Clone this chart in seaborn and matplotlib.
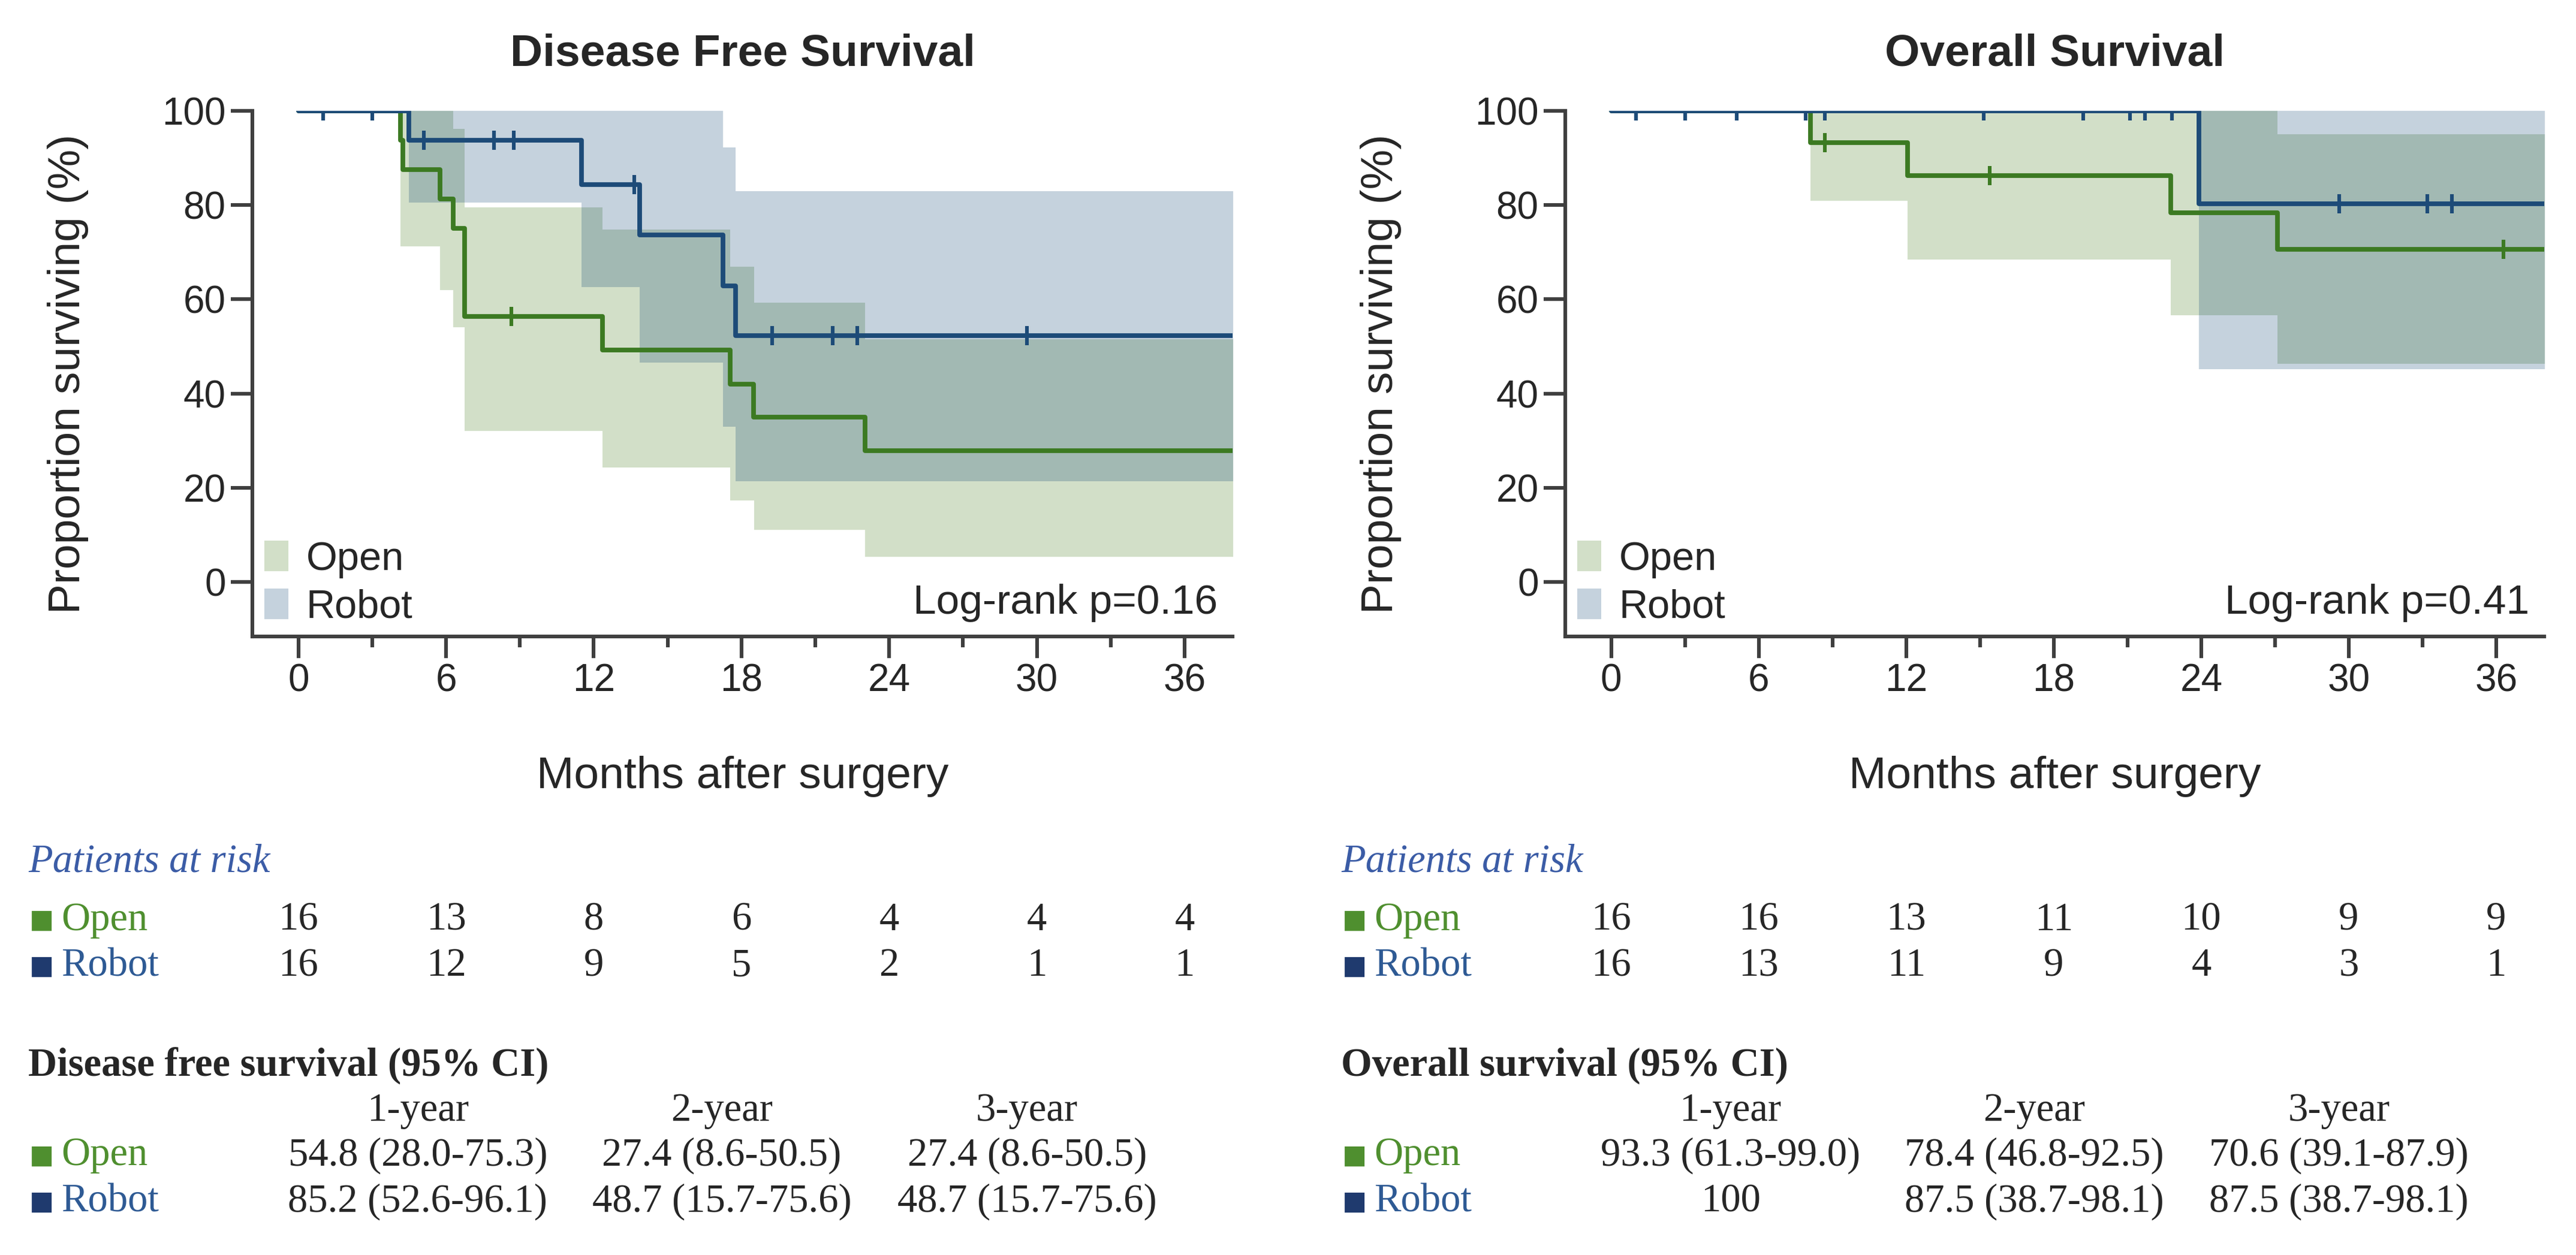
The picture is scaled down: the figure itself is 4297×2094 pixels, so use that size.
import numpy as np
import pandas as pd
import matplotlib
matplotlib.use('Agg')
import matplotlib.pyplot as plt
import matplotlib.transforms as mtransforms
from matplotlib.patches import Patch
from matplotlib.ticker import FixedLocator
import seaborn as sns

# ==========================
# Data
# ==========================
# Disease free survival, Open arm (step curve, % surviving)
DFS_OPEN_T = [0, 4.15, 4.25, 5.75, 6.28, 6.75, 12.36, 17.55, 18.5, 23.03, 38.0]
DFS_OPEN_S = [100, 93.8, 87.5, 81.3, 75.0, 56.3, 49.2, 42.0, 35.0, 27.8, 27.8]
DFS_OPEN_CENS = [8.66]
DFS_OPEN_CI_T = [4.15, 5.75, 6.28, 6.75, 12.36, 17.55, 18.52, 23.03, 38.0]
DFS_OPEN_CI_LO = [71.3, 62.0, 54.0, 32.0, 24.3, 17.3, 11.0, 5.3, 5.3]
DFS_OPEN_CI_HI = [100, 100, 96.2, 79.5, 74.8, 66.9, 59.3, 51.5, 51.5]

# Disease free survival, Robot arm
DFS_ROBOT_T = [0, 4.48, 11.5, 13.86, 17.25, 17.77, 38.0]
DFS_ROBOT_S = [100, 93.8, 84.3, 73.6, 62.8, 52.3, 52.3]
DFS_ROBOT_CENS = [1.0, 3.0, 5.1, 7.95, 8.75, 13.65, 19.25, 21.7, 22.7, 29.6]
DFS_ROBOT_CI_T = [4.48, 11.5, 13.86, 17.25, 17.77, 38.0]
DFS_ROBOT_CI_LO = [80.5, 62.6, 46.6, 33.0, 21.3, 21.3]
DFS_ROBOT_CI_HI = [100, 100, 100, 92.3, 83.0, 83.0]

# Overall survival, Open arm
OS_OPEN_T = [0, 8.1, 12.06, 22.76, 27.1, 38.0]
OS_OPEN_S = [100, 93.3, 86.2, 78.4, 70.6, 70.6]
OS_OPEN_CENS = [8.7, 15.4, 36.3]
OS_OPEN_CI_T = [8.1, 12.06, 22.76, 27.1, 38.0]
OS_OPEN_CI_LO = [80.9, 68.4, 56.6, 46.3, 46.3]
OS_OPEN_CI_HI = [100, 100, 100, 95.1, 95.1]

# Overall survival, Robot arm
OS_ROBOT_T = [0, 23.9, 38.0]
OS_ROBOT_S = [100, 80.3, 80.3]
OS_ROBOT_CENS = [1.0, 3.0, 5.1, 7.9, 8.7, 15.15, 19.2, 21.1, 21.7, 22.8, 29.6, 33.2, 34.2]
OS_ROBOT_CI_T = [23.9, 38.0]
OS_ROBOT_CI_LO = [45.2, 45.2]
OS_ROBOT_CI_HI = [100, 100]

# Patients at risk
RISK_MONTHS = [0, 6, 12, 18, 24, 30, 36]
DFS_RISK_OPEN = [16, 13, 8, 6, 4, 4, 4]
DFS_RISK_ROBOT = [16, 12, 9, 5, 2, 1, 1]
OS_RISK_OPEN = [16, 16, 13, 11, 10, 9, 9]
OS_RISK_ROBOT = [16, 13, 11, 9, 4, 3, 1]

# Survival estimates table
YEAR_HEADERS = ['1-year', '2-year', '3-year']
DFS_TABLE_OPEN = ['54.8 (28.0-75.3)', '27.4 (8.6-50.5)', '27.4 (8.6-50.5)']
DFS_TABLE_ROBOT = ['85.2 (52.6-96.1)', '48.7 (15.7-75.6)', '48.7 (15.7-75.6)']
OS_TABLE_OPEN = ['93.3 (61.3-99.0)', '78.4 (46.8-92.5)', '70.6 (39.1-87.9)']
OS_TABLE_ROBOT = ['100', '87.5 (38.7-98.1)', '87.5 (38.7-98.1)']

# ==========================
# Style
# ==========================
GREEN_LINE = '#3c7a22'
BLUE_LINE = '#1d4b78'
GREEN_BAND = '#d2dfc8'
BLUE_BAND = '#0d4371'   # drawn with alpha -> light blue, darker where it overlaps green
BLUE_ALPHA = 0.24
AXIS_GREY = '#3f3f3f'
TXT_GREEN = '#4f8f2f'
TXT_BLUE = '#2e5a94'
SQ_BLUE = '#1f3a6e'
RISK_TITLE = '#3b5ca6'

sns.set_theme(style='ticks')
plt.rcParams['font.family'] = ['Liberation Sans', 'DejaVu Sans']
SERIF = ['Liberation Serif', 'DejaVu Sans']

W, H = 4297, 2094
DPI = 200
fig = plt.figure(figsize=(W / DPI, H / DPI), dpi=DPI)

XLIM = (-1.87, 37.95)
YLIM = (-11.6, 100)


def step_value(times, surv, t):
    idx = np.searchsorted(times, t, side='right') - 1
    return np.asarray(surv)[idx]


def draw_panel(ax, title, pval, open_arm, robot_arm):
    # confidence bands
    ax.fill_between(open_arm['ci_t'], open_arm['ci_lo'], open_arm['ci_hi'],
                    step='post', color=GREEN_BAND, linewidth=0, zorder=1)
    ax.fill_between(robot_arm['ci_t'], robot_arm['ci_lo'], robot_arm['ci_hi'],
                    step='post', color=BLUE_BAND, alpha=BLUE_ALPHA, linewidth=0, zorder=1.1)

    # survival curves
    df = pd.concat([
        pd.DataFrame({'time': open_arm['t'], 'surv': open_arm['s'], 'arm': 'Open'}),
        pd.DataFrame({'time': robot_arm['t'], 'surv': robot_arm['s'], 'arm': 'Robot'}),
    ], ignore_index=True)
    sns.lineplot(data=df, x='time', y='surv', hue='arm', estimator=None,
                 palette={'Open': GREEN_LINE, 'Robot': BLUE_LINE},
                 drawstyle='steps-post', linewidth=2.8, legend=False, ax=ax, zorder=3)

    # censor marks
    for arm, col in ((open_arm, GREEN_LINE), (robot_arm, BLUE_LINE)):
        cy = step_value(arm['t'], arm['s'], arm['cens'])
        sns.scatterplot(x=arm['cens'], y=cy, marker='|', s=130, linewidth=2.2,
                        color=col, ax=ax, zorder=4, legend=False)

    ax.set_xlim(XLIM)
    ax.set_ylim(YLIM)
    ax.set_xticks(RISK_MONTHS)
    ax.xaxis.set_minor_locator(FixedLocator(np.arange(3, 36, 6)))
    ax.set_yticks([0, 20, 40, 60, 80, 100])
    ax.tick_params(axis='both', which='major', direction='out', length=13, width=2.2,
                   color=AXIS_GREY, labelsize=23, pad=3)
    ax.tick_params(axis='x', which='minor', direction='out', length=6.5, width=2.2,
                   color=AXIS_GREY)
    sns.despine(ax=ax)
    for side in ('left', 'bottom'):
        ax.spines[side].set_color(AXIS_GREY)
        ax.spines[side].set_linewidth(2.2)
    ax.set_facecolor('white')
    ax.grid(False)

    ax.set_title(title, fontsize=27, fontweight='bold', pad=27)
    ax.set_xlabel('Months after surgery', fontsize=27, labelpad=34)
    ax.set_ylabel('Proportion surviving (%)', fontsize=27, labelpad=44)

    handles = [Patch(facecolor=GREEN_BAND, edgecolor='none'),
               Patch(facecolor='#c5d2dd', edgecolor='none')]
    ax.legend(handles, ['Open', 'Robot'], loc='lower left', bbox_to_anchor=(0.012, 0.02),
              frameon=False, fontsize=24, handlelength=0.6, handleheight=0.8,
              handletextpad=0.45, labelspacing=0.25, borderpad=0, borderaxespad=0)
    ax.text(0.985, 0.064, f'Log-rank p={pval}', transform=ax.transAxes,
            ha='right', va='center', fontsize=25)


def fy(py):
    return 1 - py / H


def row_label(x0, row_y, name, col, sq, fs):
    fig.text(x0, fy(row_y), '\u25AA', fontsize=fs, color=sq,
             family=['DejaVu Sans'], va='center', ha='left')
    fig.text(x0 + 55 / W, fy(row_y), name, fontsize=fs, color=col,
             family=SERIF, va='center', ha='left')


def draw_tables(ax, left_px, risk_open, risk_robot, table_title, tab_open, tab_robot):
    trans = mtransforms.blended_transform_factory(ax.transData, fig.transFigure)
    x0 = left_px / W
    fs = 24
    fig.text(x0, fy(1438), 'Patients at risk', fontsize=fs, style='italic',
             color=RISK_TITLE, family=SERIF, va='center', ha='left')
    for row_y, name, col, sq, vals in ((1535, 'Open', TXT_GREEN, TXT_GREEN, risk_open),
                                       (1612, 'Robot', TXT_BLUE, SQ_BLUE, risk_robot)):
        row_label(x0, row_y, name, col, sq, fs)
        for m, v in zip(RISK_MONTHS, vals):
            ax.text(m, fy(row_y), str(v), transform=trans, fontsize=fs,
                    family=SERIF, ha='center', va='center', clip_on=False)

    fig.text(x0, fy(1778), table_title, fontsize=fs, fontweight='bold',
             family=SERIF, va='center', ha='left')
    col_x = [4.85, 17.2, 29.6]
    for cx, hdr in zip(col_x, YEAR_HEADERS):
        ax.text(cx, fy(1853), hdr, transform=trans, fontsize=fs, family=SERIF,
                ha='center', va='center', clip_on=False)
    for row_y, name, col, sq, vals in ((1928, 'Open', TXT_GREEN, TXT_GREEN, tab_open),
                                       (2005, 'Robot', TXT_BLUE, SQ_BLUE, tab_robot)):
        row_label(x0, row_y, name, col, sq, fs)
        for cx, v in zip(col_x, vals):
            ax.text(cx, fy(row_y), v, transform=trans, fontsize=fs, family=SERIF,
                    ha='center', va='center', clip_on=False)


ax_l = fig.add_axes([421 / W, 1 - 1062 / H, (2056 - 421) / W, (1062 - 185) / H])
ax_r = fig.add_axes([2611 / W, 1 - 1062 / H, (4244 - 2611) / W, (1062 - 185) / H])

draw_panel(ax_l, 'Disease Free Survival', '0.16',
           dict(t=DFS_OPEN_T, s=DFS_OPEN_S, cens=DFS_OPEN_CENS, ci_t=DFS_OPEN_CI_T,
                ci_lo=DFS_OPEN_CI_LO, ci_hi=DFS_OPEN_CI_HI),
           dict(t=DFS_ROBOT_T, s=DFS_ROBOT_S, cens=DFS_ROBOT_CENS, ci_t=DFS_ROBOT_CI_T,
                ci_lo=DFS_ROBOT_CI_LO, ci_hi=DFS_ROBOT_CI_HI))
draw_panel(ax_r, 'Overall Survival', '0.41',
           dict(t=OS_OPEN_T, s=OS_OPEN_S, cens=OS_OPEN_CENS, ci_t=OS_OPEN_CI_T,
                ci_lo=OS_OPEN_CI_LO, ci_hi=OS_OPEN_CI_HI),
           dict(t=OS_ROBOT_T, s=OS_ROBOT_S, cens=OS_ROBOT_CENS, ci_t=OS_ROBOT_CI_T,
                ci_lo=OS_ROBOT_CI_LO, ci_hi=OS_ROBOT_CI_HI))

draw_tables(ax_l, 47, DFS_RISK_OPEN, DFS_RISK_ROBOT, 'Disease free survival (95% CI)',
            DFS_TABLE_OPEN, DFS_TABLE_ROBOT)
draw_tables(ax_r, 2237, OS_RISK_OPEN, OS_RISK_ROBOT, 'Overall survival (95% CI)',
            OS_TABLE_OPEN, OS_TABLE_ROBOT)

fig.savefig('out.png', dpi=DPI, facecolor='white')
